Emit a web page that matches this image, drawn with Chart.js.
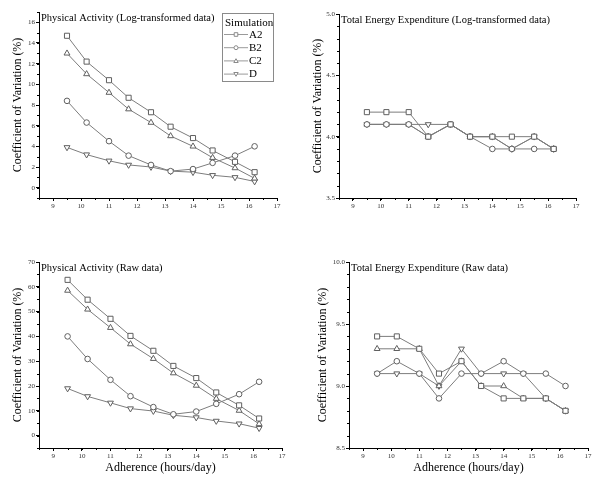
<!DOCTYPE html>
<html><head><meta charset="utf-8">
<script src="https://cdn.jsdelivr.net/npm/chart.js@4/dist/chart.umd.min.js"></script>
<style>
html,body{margin:0;padding:0;background:#fff;}
#wrap{position:relative;width:600px;height:480px;background:#fff;}
.p{position:absolute;width:300px;height:240px;}
canvas{display:block;}
</style></head><body>
<div id="wrap">
<div class="p" style="left:0;top:0"><canvas id="c1" width="300" height="240"></canvas></div>
<div class="p" style="left:300px;top:0"><canvas id="c2" width="300" height="240"></canvas></div>
<div class="p" style="left:0;top:240px"><canvas id="c3" width="300" height="240"></canvas></div>
<div class="p" style="left:300px;top:240px"><canvas id="c4" width="300" height="240"></canvas></div>
</div>
<script>
// ---- data ----
const adherence = [9.5, 10.2, 11, 11.7, 12.5, 13.2, 14, 14.7, 15.5, 16.2];
const seriesNames = ['A2', 'B2', 'C2', 'D'];

const paLogA2 = [14.7, 12.2, 10.4, 8.7, 7.3, 5.9, 4.8, 3.6, 2.5, 1.5];
const paLogB2 = [8.4, 6.3, 4.5, 3.1, 2.2, 1.6, 1.8, 2.4, 3.1, 4.0];
const paLogC2 = [13.0, 11.0, 9.2, 7.6, 6.3, 5.0, 4.0, 2.9, 1.9, 0.9];
const paLogD  = [3.9, 3.2, 2.6, 2.2, 2.0, 1.6, 1.5, 1.2, 1.0, 0.6];

const teeLogA2 = [4.2, 4.2, 4.2, 4.0, 4.1, 4.0, 4.0, 4.0, 4.0, 3.9];
const teeLogB2 = [4.1, 4.1, 4.1, 4.0, 4.1, 4.0, 3.9, 3.9, 3.9, 3.9];
const teeLogC2 = [4.1, 4.1, 4.1, 4.0, 4.1, 4.0, 4.0, 3.9, 4.0, 3.9];
const teeLogD  = [4.1, 4.1, 4.1, 4.1, 4.1, 4.0, 4.0, 3.9, 4.0, 3.9];

const paRawA2 = [62.8, 54.8, 47.1, 40.2, 34.2, 28.1, 23.2, 17.4, 12.2, 6.9];
const paRawB2 = [40.0, 30.9, 22.5, 15.9, 11.5, 8.6, 9.7, 12.8, 16.7, 21.7];
const paRawC2 = [58.5, 50.9, 43.5, 36.9, 31.0, 25.2, 20.2, 14.9, 10.1, 4.7];
const paRawD  = [19.0, 15.8, 13.2, 10.9, 9.9, 8.2, 7.3, 5.9, 4.8, 3.0];

const teeRawA2 = [9.4, 9.4, 9.3, 9.1, 9.2, 9.0, 8.9, 8.9, 8.9, 8.8];
const teeRawB2 = [9.1, 9.2, 9.1, 8.9, 9.1, 9.1, 9.2, 9.1, 9.1, 9.0];
const teeRawC2 = [9.3, 9.3, 9.3, 9.0, 9.2, 9.0, 9.0, 8.9, 8.9, 8.8];
const teeRawD  = [9.1, 9.1, 9.1, 9.0, 9.3, 9.1, 9.1, 9.1, 8.9, 8.8];

const xTickLabels = [9, 10, 11, 12, 13, 14, 15, 16, 17];
const paLogYTicks = [0, 2, 4, 6, 8, 10, 12, 14, 16];
const teeLogYTicks = [3.5, 4.0, 4.5, 5.0];
const paRawYTicks = [0, 10, 20, 30, 40, 50, 60, 70];
const teeRawYTicks = [8.5, 9.0, 9.5, 10.0];

const panelTitles = [
  'Physical Activity (Log-transformed data)',
  'Total Energy Expenditure (Log-transformed data)',
  'Physical Activity (Raw data)',
  'Total Energy Expenditure (Raw data)'
];
const yAxisTitle = 'Coefficient of Variation (%)';
const xAxisTitle = 'Adherence (hours/day)';

// ---- styles ----
const SERIF = '"Liberation Serif", "Times New Roman", serif';
const markerStyles = [
  {pointStyle: 'rect', rotation: 0, radius: 3.6},
  {pointStyle: 'circle', rotation: 0, radius: 2.8},
  {pointStyle: 'triangle', rotation: 0, radius: 3.4},
  {pointStyle: 'triangle', rotation: 180, radius: 3.4}
];

function makeDatasets(arrs) {
  return arrs.map((vals, i) => ({
    label: seriesNames[i],
    data: adherence.map((x, k) => ({x: x, y: vals[k]})),
    borderColor: '#7d7d7d',
    borderWidth: 1,
    tension: 0,
    pointStyle: markerStyles[i].pointStyle,
    pointRotation: markerStyles[i].rotation,
    pointRadius: markerStyles[i].radius,
    pointBorderColor: '#606060',
    pointBackgroundColor: '#ffffff',
    pointBorderWidth: 1
  }));
}

const decorPlugin = {
  id: 'decor',
  afterDraw(chart, args, o) {
    const ctx = chart.ctx;
    const ca = chart.chartArea;
    ctx.save();
    // minor ticks
    ctx.strokeStyle = '#000';
    ctx.lineWidth = 1;
    const xs = chart.scales.x, ys = chart.scales.y;
    ctx.beginPath();
    for (let v = o.xMin; v <= o.xMax + 1e-9; v += o.xMinor) {
      const px = Math.round(xs.getPixelForValue(v)) + 0.5;
      ctx.moveTo(px, ca.bottom);
      ctx.lineTo(px, ca.bottom + 2);
    }
    for (let v = o.yMin; v <= o.yMax + 1e-9; v += o.yMinor) {
      const py = Math.round(ys.getPixelForValue(v)) + 0.5;
      ctx.moveTo(ca.left, py);
      ctx.lineTo(ca.left - 2, py);
    }
    ctx.stroke();
    // panel title
    ctx.fillStyle = '#000';
    ctx.font = '10.5px ' + SERIF;
    ctx.textBaseline = 'top';
    ctx.textAlign = 'left';
    ctx.fillText(o.title, ca.left + o.titleDx, ca.top + o.titleDy);
    // legend
    if (o.legend) {
      const L = o.legend;
      ctx.strokeStyle = '#8a8a8a';
      ctx.strokeRect(L.x + 0.5, L.y + 0.5, L.w, L.h);
      ctx.font = '11px ' + SERIF;
      ctx.textBaseline = 'middle';
      ctx.fillText('Simulation', L.x + 3, L.y + 10);
      chart.data.datasets.forEach((ds, i) => {
        const y = L.y + 21.5 + i * 13.2;
        ctx.strokeStyle = '#9a9a9a';
        ctx.beginPath();
        ctx.moveTo(L.x + 2, y); ctx.lineTo(L.x + 26, y);
        ctx.stroke();
        const cx = L.x + 14;
        ctx.fillStyle = '#fff';
        ctx.strokeStyle = '#8a8a8a';
        ctx.beginPath();
        const r = 2;
        const st = markerStyles[i];
        if (st.pointStyle === 'rect') {
          ctx.rect(cx - 1.8, y - 1.8, 3.6, 3.6);
        } else if (st.pointStyle === 'circle') {
          ctx.arc(cx, y, r, 0, Math.PI * 2);
        } else if (st.rotation === 0) {
          ctx.moveTo(cx, y - 2.2); ctx.lineTo(cx + 2.2, y + 1.6); ctx.lineTo(cx - 2.2, y + 1.6); ctx.closePath();
        } else {
          ctx.moveTo(cx, y + 2.2); ctx.lineTo(cx + 2.2, y - 1.6); ctx.lineTo(cx - 2.2, y - 1.6); ctx.closePath();
        }
        ctx.fill(); ctx.stroke();
        ctx.fillStyle = '#000';
        ctx.font = '11px ' + SERIF;
        ctx.fillText(ds.label, L.x + 27, y + 0.5);
      });
    }
    ctx.restore();
  }
};

function makeChart(id, cfg) {
  const A = cfg.area;
  return new Chart(document.getElementById(id), {
    type: 'line',
    data: {datasets: makeDatasets(cfg.series)},
    plugins: [decorPlugin],
    options: {
      responsive: false,
      animation: false,
      events: [],
      layout: {padding: {left: 0, top: A.top, right: 300 - A.right, bottom: 0}},
      plugins: {
        legend: {display: false},
        tooltip: {enabled: false},
        title: {display: false},
        decor: {
          xMin: 8.5, xMax: 17, xMinor: 0.5,
          yMin: cfg.yMin, yMax: cfg.yMax, yMinor: cfg.yMinor,
          title: cfg.title, titleDx: 2, titleDy: 1,
          legend: cfg.legend || null
        }
      },
      scales: {
        x: {
          type: 'linear', position: 'bottom', min: 8.5, max: 17,
          afterBuildTicks: s => { s.ticks = xTickLabels.map(v => ({value: v})); },
          afterFit: s => { s.height = 240 - A.bottom; },
          grid: {display: true, drawOnChartArea: false, drawTicks: true, tickLength: 3, tickColor: '#000', tickWidth: 1},
          border: {display: true, color: '#000', width: 1},
          ticks: {color: '#333', font: {family: SERIF, size: 7}, padding: 1, maxRotation: 0, autoSkip: false,
                  callback: v => String(v)},
          title: {display: !!cfg.xTitle, text: xAxisTitle, color: '#000',
                  font: {family: SERIF, size: 12}, padding: {top: 0, bottom: 5}}
        },
        y: {
          type: 'linear', position: 'left', min: cfg.yMin, max: cfg.yMax,
          afterBuildTicks: s => { s.ticks = cfg.yTicks.map(v => ({value: v})); },
          afterFit: s => { s.width = A.left; },
          grid: {display: true, drawOnChartArea: false, drawTicks: true, tickLength: 3, tickColor: '#000', tickWidth: 1},
          border: {display: true, color: '#000', width: 1},
          ticks: {color: '#333', font: {family: SERIF, size: 7}, padding: 1, autoSkip: false,
                  callback: v => cfg.yFmt(v)},
          title: {display: true, text: yAxisTitle, color: '#000',
                  font: {family: SERIF, size: 12}, padding: {top: cfg.yTitlePad, bottom: 0}}
        }
      }
    }
  });
}

makeChart('c1', {
  series: [paLogA2, paLogB2, paLogC2, paLogD],
  area: {left: 39, top: 12, right: 277, bottom: 198},
  yMin: -1, yMax: 17, yMinor: 1, yTicks: paLogYTicks, yFmt: v => String(v),
  title: panelTitles[0], yTitlePad: 11,
  legend: {x: 222, y: 13, w: 51, h: 68}
});
makeChart('c2', {
  series: [teeLogA2, teeLogB2, teeLogC2, teeLogD],
  area: {left: 39, top: 14, right: 276, bottom: 198},
  yMin: 3.5, yMax: 5.0, yMinor: 0.1, yTicks: teeLogYTicks, yFmt: v => v.toFixed(1),
  title: panelTitles[1], yTitlePad: 11
});
makeChart('c3', {
  series: [paRawA2, paRawB2, paRawC2, paRawD],
  area: {left: 39, top: 22, right: 282, bottom: 208},
  yMin: -5, yMax: 70, yMinor: 5, yTicks: paRawYTicks, yFmt: v => String(v),
  title: panelTitles[2], yTitlePad: 11, xTitle: true
});
makeChart('c4', {
  series: [teeRawA2, teeRawB2, teeRawC2, teeRawD],
  area: {left: 49, top: 22, right: 288, bottom: 208},
  yMin: 8.5, yMax: 10.0, yMinor: 0.1, yTicks: teeRawYTicks, yFmt: v => v.toFixed(1),
  title: panelTitles[3], yTitlePad: 16, xTitle: true
});
</script>
</body></html>
